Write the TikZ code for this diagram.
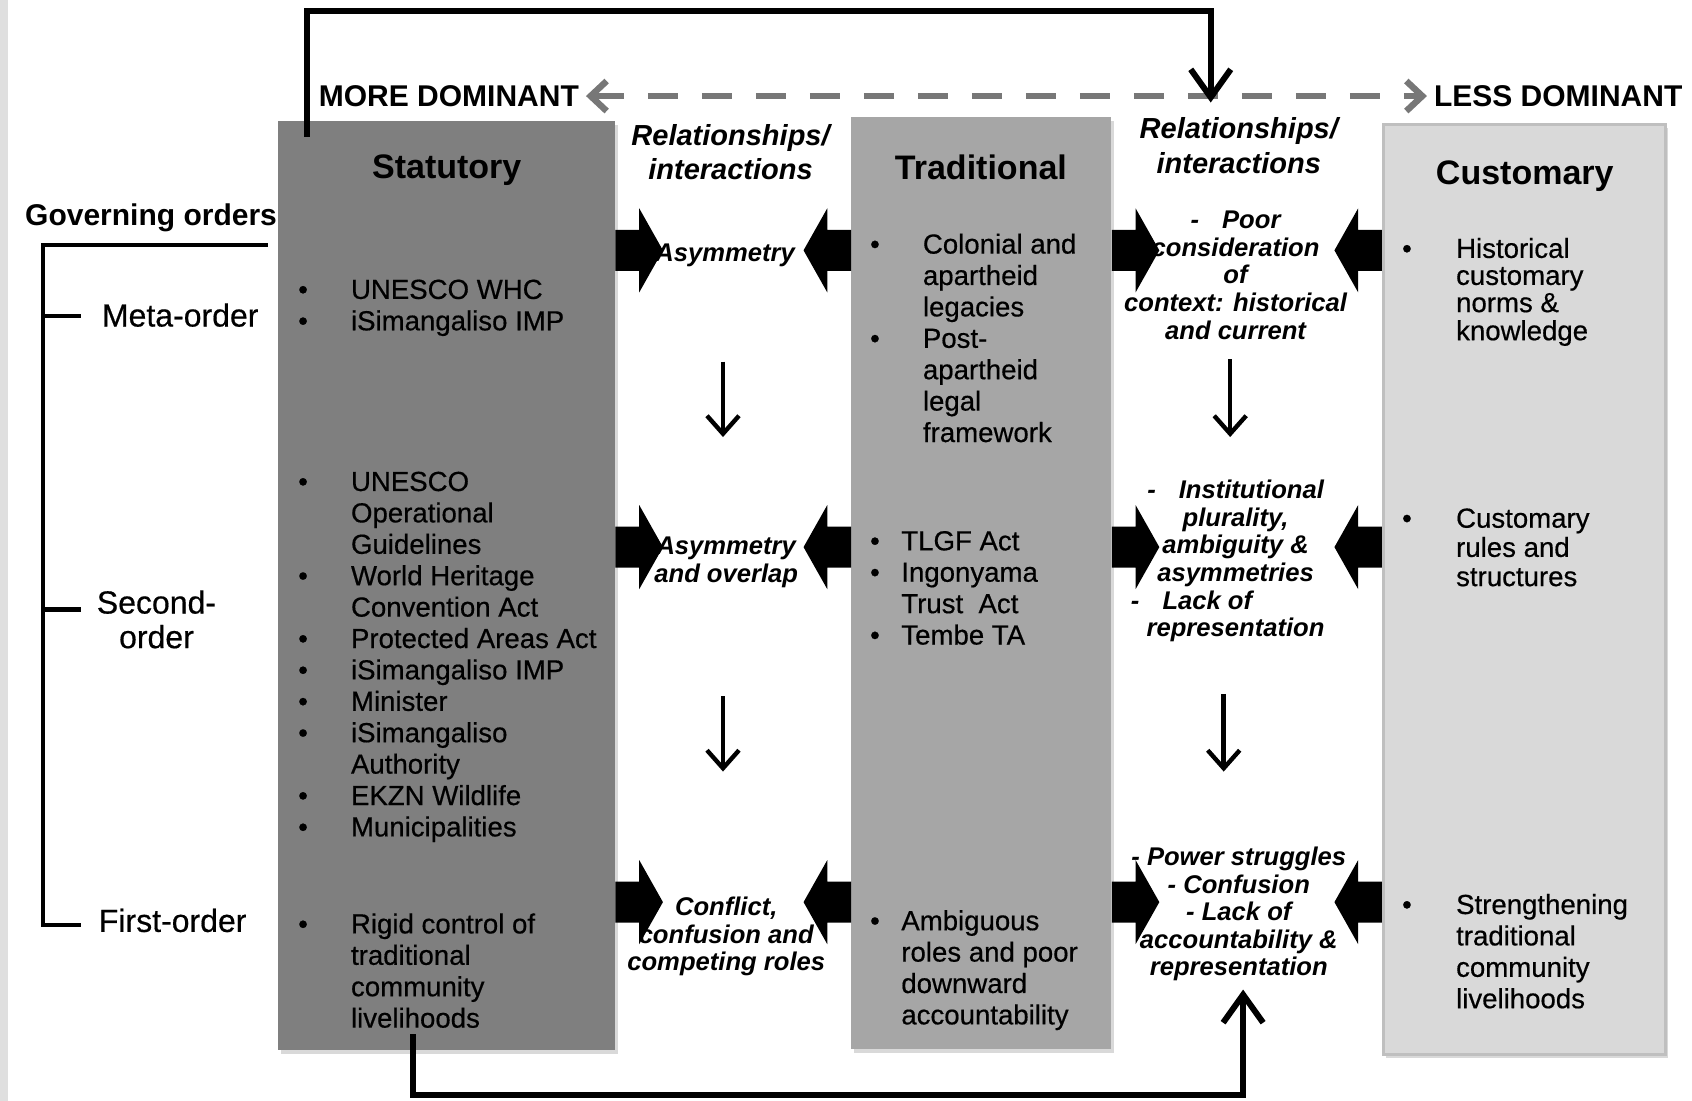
\documentclass[tikz,border=0pt]{standalone}
\usepackage{fontspec}
\setmainfont{Liberation Sans}
\newfontfamily\medfont[FakeBold=0.5]{Liberation Sans}
\usepackage{tikz}
\usetikzlibrary{arrows.meta, shadows, calc}

\definecolor{statgray}{HTML}{7F7F7F}
\definecolor{tradgray}{HTML}{A6A6A6}
\definecolor{custgray}{HTML}{D9D9D9}
\definecolor{custedge}{HTML}{BFBFBF}
\definecolor{domgray}{HTML}{777777}

\newcommand{\blist}[2]{\begin{tabular}[t]{@{}p{#1}@{}l@{}}#2\end{tabular}}

\tikzstyle{govbox} = [rectangle, inner sep=0pt, drop shadow={shadow xshift=1.5pt, shadow yshift=-2pt, opacity=0.3}]
\tikzstyle{coltitle} = [font=\fontsize{17}{20}\selectfont\bfseries]
\tikzstyle{items} = [anchor=base west, inner sep=0pt, font=\fontsize{13.8}{15.7}\selectfont\medfont]
\tikzstyle{rel} = [align=center, inner sep=0pt, font=\fontsize{12.8}{13.8}\selectfont\bfseries\itshape]
\tikzstyle{reltitle} = [align=center, inner sep=0pt, font=\fontsize{14.5}{17.3}\selectfont\bfseries\itshape]
\tikzstyle{order} = [align=center, inner sep=0pt, font=\fontsize{16}{17.3}\selectfont\medfont]
\tikzstyle{dom} = [font=\fontsize{15}{18}\selectfont\bfseries]
\tikzstyle{loop} = [draw, line width=3pt, -{Straight Barb[length=14pt, width=20pt]}]
\tikzstyle{darr} = [draw, line width=2.2pt, -{Straight Barb[length=9pt, width=16pt]}]
\tikzstyle{domline} = [draw=domgray, line width=3.2pt, dash pattern=on 15pt off 12pt,
  {Straight Barb[length=8pt, width=15pt]}-{Straight Barb[length=8pt, width=15pt]}]
\tikzstyle{bracket} = [draw, line width=2.2pt]

\tikzset{barrow/.pic={\fill (0,-19) -- (22,-19) -- (22,-39) -- (44,0) -- (22,39) -- (22,19) -- (0,19) -- cycle;}}

\begin{document}
\begin{tikzpicture}[x=0.5395pt, y=-0.5395pt]

    \useasboundingbox (0,0) rectangle (1568,1020);

    % page edge
    \fill[gray!25] (0,0) rectangle (7,1020);

    % the three governance systems
    \node[govbox, fill=statgray, minimum width=168.3pt, minimum height=464.5pt] (stat) at (414,542.5) {};
    \node[govbox, fill=tradgray, minimum width=130pt, minimum height=466.1pt] (trad) at (909.5,540) {};
    \node[govbox, fill=custgray, draw=custedge, line width=1.5pt, minimum width=140.8pt, minimum height=465pt] (cust) at (1412.5,546) {};

    \node[coltitle] (stattitle) at (414,158) {Statutory};
    \node[coltitle] (tradtitle) at (909,155) {Traditional};
    \node[coltitle] (custtitle) at (1413,163) {Customary};

    \node[reltitle] (rel1) at (677,141) {Relationships/\\interactions};
    \node[reltitle] (rel2) at (1148,135) {Relationships/\\interactions};

    % dominance axis
    \node[dom] (more) at (416,89) {MORE DOMINANT};
    \node[dom] (less) at (1444,89) {LESS DOMINANT};
    \draw[domline] (more) -- (less);

    % governing orders
    \node[dom] (gov) at (140,202) {Governing orders};
    \node[order] (meta) at (167,292) {Meta-order};
    \node[order] (second) at (145,574) {Second-\\order};
    \node[order] (first) at (160,853) {First-order};

    \draw[bracket] (248,227) -| (40,857) -- (75,857);
    \foreach \y in {293,565}
        \draw[bracket] (40,\y) -- (75,\y);

    % statutory
    \node[items] (statmeta) at (276,277) {\blist{26.4pt}{\textbullet & UNESCO WHC\\ \textbullet & iSimangaliso IMP}};
    \node[items] (statsecond) at (276,455) {\blist{26.4pt}{\textbullet & UNESCO\\ & Operational\\ & Guidelines\\
        \textbullet & World Heritage\\ & Convention Act\\ \textbullet & Protected Areas Act\\
        \textbullet & iSimangaliso IMP\\ \textbullet & Minister\\ \textbullet & iSimangaliso\\ & Authority\\
        \textbullet & EKZN Wildlife\\ \textbullet & Municipalities}};
    \node[items] (statfirst) at (276,865) {\blist{26.4pt}{\textbullet & Rigid control of\\ & traditional\\ & community\\ & livelihoods}};

    % traditional
    \node[items] (tradmeta) at (806,235) {\blist{26.4pt}{\textbullet & Colonial and\\ & apartheid\\ & legacies\\
        \textbullet & Post-\\ & apartheid\\ & legal\\ & framework}};
    \node[items] (tradsecond) at (806,510) {\blist{15.6pt}{\textbullet & TLGF Act\\ \textbullet & Ingonyama\\ & Trust~ Act\\ \textbullet & Tembe TA}};
    \node[items] (tradfirst) at (806,862) {\blist{15.6pt}{\textbullet & Ambiguous\\ & roles and poor\\ & downward\\ & accountability}};

    % customary
    \node[items, font=\fontsize{13.8}{13.5}\selectfont\medfont] (custmeta) at (1299,239) {\blist{27pt}{\textbullet & Historical\\ & customary\\ & norms \&\\ & knowledge}};
    \node[items, font=\fontsize{13.8}{14.6}\selectfont\medfont] (custsecond) at (1299,489) {\blist{27pt}{\textbullet & Customary\\ & rules and\\ & structures}};
    \node[items] (custfirst) at (1299,847) {\blist{27pt}{\textbullet & Strengthening\\ & traditional\\ & community\\ & livelihoods}};

    % block arrows between the systems
    \foreach \y in {232,507,836} {
        \pic at (stat.east |- 0,\y) {barrow};
        \pic[xscale=-1] at (trad.west |- 0,\y) {barrow};
        \pic at (trad.east |- 0,\y) {barrow};
        \pic[xscale=-1] at (cust.west |- 0,\y) {barrow};
    }

    % relationships
    \node[rel] (asym) at (672,237) {Asymmetry};
    \node[rel] (asymov) at (673,521) {Asymmetry\\and overlap};
    \node[rel] (conf) at (673,868) {Conflict,\\confusion and\\competing roles};

    \node[rel] (poor) at (1145,255) {-\hspace{0.9em}Poor\\consideration\\of\\context: historical\\and current};
    \node[rel] (inst) at (1145,520) {-\hspace{0.9em}Institutional\\plurality,\\ambiguity \&\\asymmetries\\
        -\hspace{0.9em}Lack of\rule{44pt}{0pt}\\representation};
    \node[rel] (power) at (1148,847) {- Power struggles\\- Confusion\\- Lack of\\accountability \&\\representation};

    \draw[darr] ($(asym)+(-2,98)$) -- ($(asymov)+(-3,-116)$);
    \draw[darr] ($(asymov)+(-3,124)$) -- ($(conf)+(-3,-153)$);
    \draw[darr] ($(poor)+(-5,78)$) -- ($(inst)+(-5,-115)$);
    \draw[darr] ($(inst)+(-11,123)$) -- ($(power)+(-14,-132)$);

    % feedback loops
    \coordinate (topin) at (1122,95);
    \coordinate (botin) at (1152,917);
    \draw[loop] ($(stat.north west)+(27,15)$) |- ($(topin)+(0,-85)$) -- (topin);
    \draw[loop] ($(stat.south west)+(125,-15)$) |- ($(botin)+(0,98)$) -- (botin);

\end{tikzpicture}
\end{document}
